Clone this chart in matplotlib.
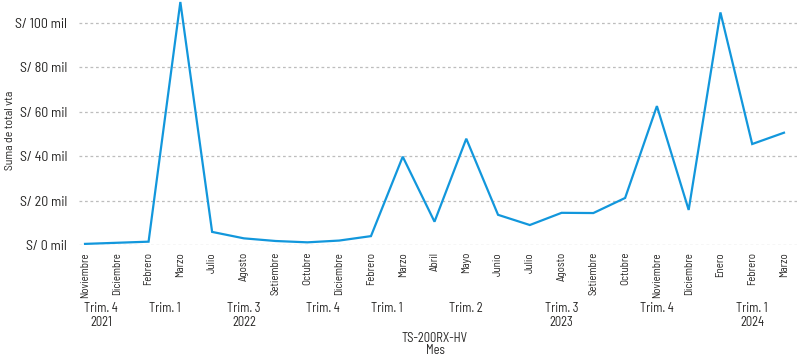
import matplotlib
matplotlib.use("Agg")
import matplotlib.pyplot as plt
from matplotlib.ticker import FuncFormatter

plt.rcParams['font.family'] = ['Barlow Semi Condensed', 'DejaVu Sans']

months = ["Noviembre", "Diciembre", "Febrero", "Marzo", "Julio", "Agosto", "Setiembre",
          "Octubre", "Diciembre", "Febrero", "Marzo", "Abril", "Mayo", "Junio", "Julio",
          "Agosto", "Setiembre", "Octubre", "Noviembre", "Diciembre", "Enero", "Febrero", "Marzo"]
values = [0.5, 1.0, 1.5, 109.5, 5.9, 3.0, 1.8, 1.2, 2.0, 4.0, 39.8, 10.5, 47.9, 13.6, 9.0,
          14.5, 14.4, 21.2, 62.6, 15.8, 104.8, 45.5, 50.6]  # thousands of soles
# quarter groups: (label, first month index, last month index)
quarters = [("Trim. 4", 0, 1), ("Trim. 1", 2, 3), ("Trim. 3", 4, 6), ("Trim. 4", 7, 8),
            ("Trim. 1", 9, 10), ("Trim. 2", 11, 13), ("Trim. 3", 14, 16), ("Trim. 4", 17, 19),
            ("Trim. 1", 20, 22)]
# year label attached under a quarter group (index into quarters)
years = [("2021", 0), ("2022", 2), ("2023", 6), ("2024", 8)]
yticks = [0, 20, 40, 60, 80, 100]

W, H = 798, 361
fig = plt.figure(figsize=(W / 100, H / 100), dpi=100)
left_px, right_px, top_px, bottom_px = 79, 797, 0, 245
ax = fig.add_axes([left_px / W, 1 - bottom_px / H, (right_px - left_px) / W, (bottom_px - top_px) / H])

x = list(range(len(values)))
ax.plot(x, values, color="#1297DC", lw=1.6, solid_joinstyle="miter", zorder=3)

ax.set_xlim(-0.19, len(values) - 1 + 0.41)
ax.set_ylim(0, 110.4)
ax.set_yticks(yticks)
ax.yaxis.set_major_formatter(FuncFormatter(lambda v, p: f"S/ {int(v)} mil"))
ax.grid(axis="y", color="#BDBDBD", linestyle=(0, (2.2, 2.2)), lw=0.9)
ax.set_axisbelow(True)
for s in ax.spines.values():
    s.set_visible(False)
ax.tick_params(axis="y", length=0, pad=8.5, labelsize=10, labelcolor="#252423")

ax.set_xticks(x)
ax.set_xticklabels(months, rotation=90, fontsize=7.8, color="#252423", va="top")
ax.tick_params(axis="x", length=0, pad=5)

fig.text(10 / W, 1 - 130 / H, "Suma de total vta", rotation=90, ha="center", va="center",
         fontsize=8.5, color="#252423")

trans = ax.get_xaxis_transform()
qy = -(308 - bottom_px) / (bottom_px - top_px)
yy = -(322 - bottom_px) / (bottom_px - top_px)
for lab, a, b in quarters:
    ax.text((a + b) / 2, qy, lab, transform=trans, ha="center", va="center",
            fontsize=9, color="#252423")
for lab, qi in years:
    _, a, b = quarters[qi]
    ax.text((a + b) / 2, yy, lab, transform=trans, ha="center", va="center",
            fontsize=9, color="#252423")

fig.text(435 / W, 1 - 338 / H, "TS-200RX-HV", ha="center", va="center", fontsize=9, color="#252423")
fig.text(435 / W, 1 - 351 / H, "Mes", ha="center", va="center", fontsize=9, color="#252423")

fig.savefig("out.png", dpi=100)
